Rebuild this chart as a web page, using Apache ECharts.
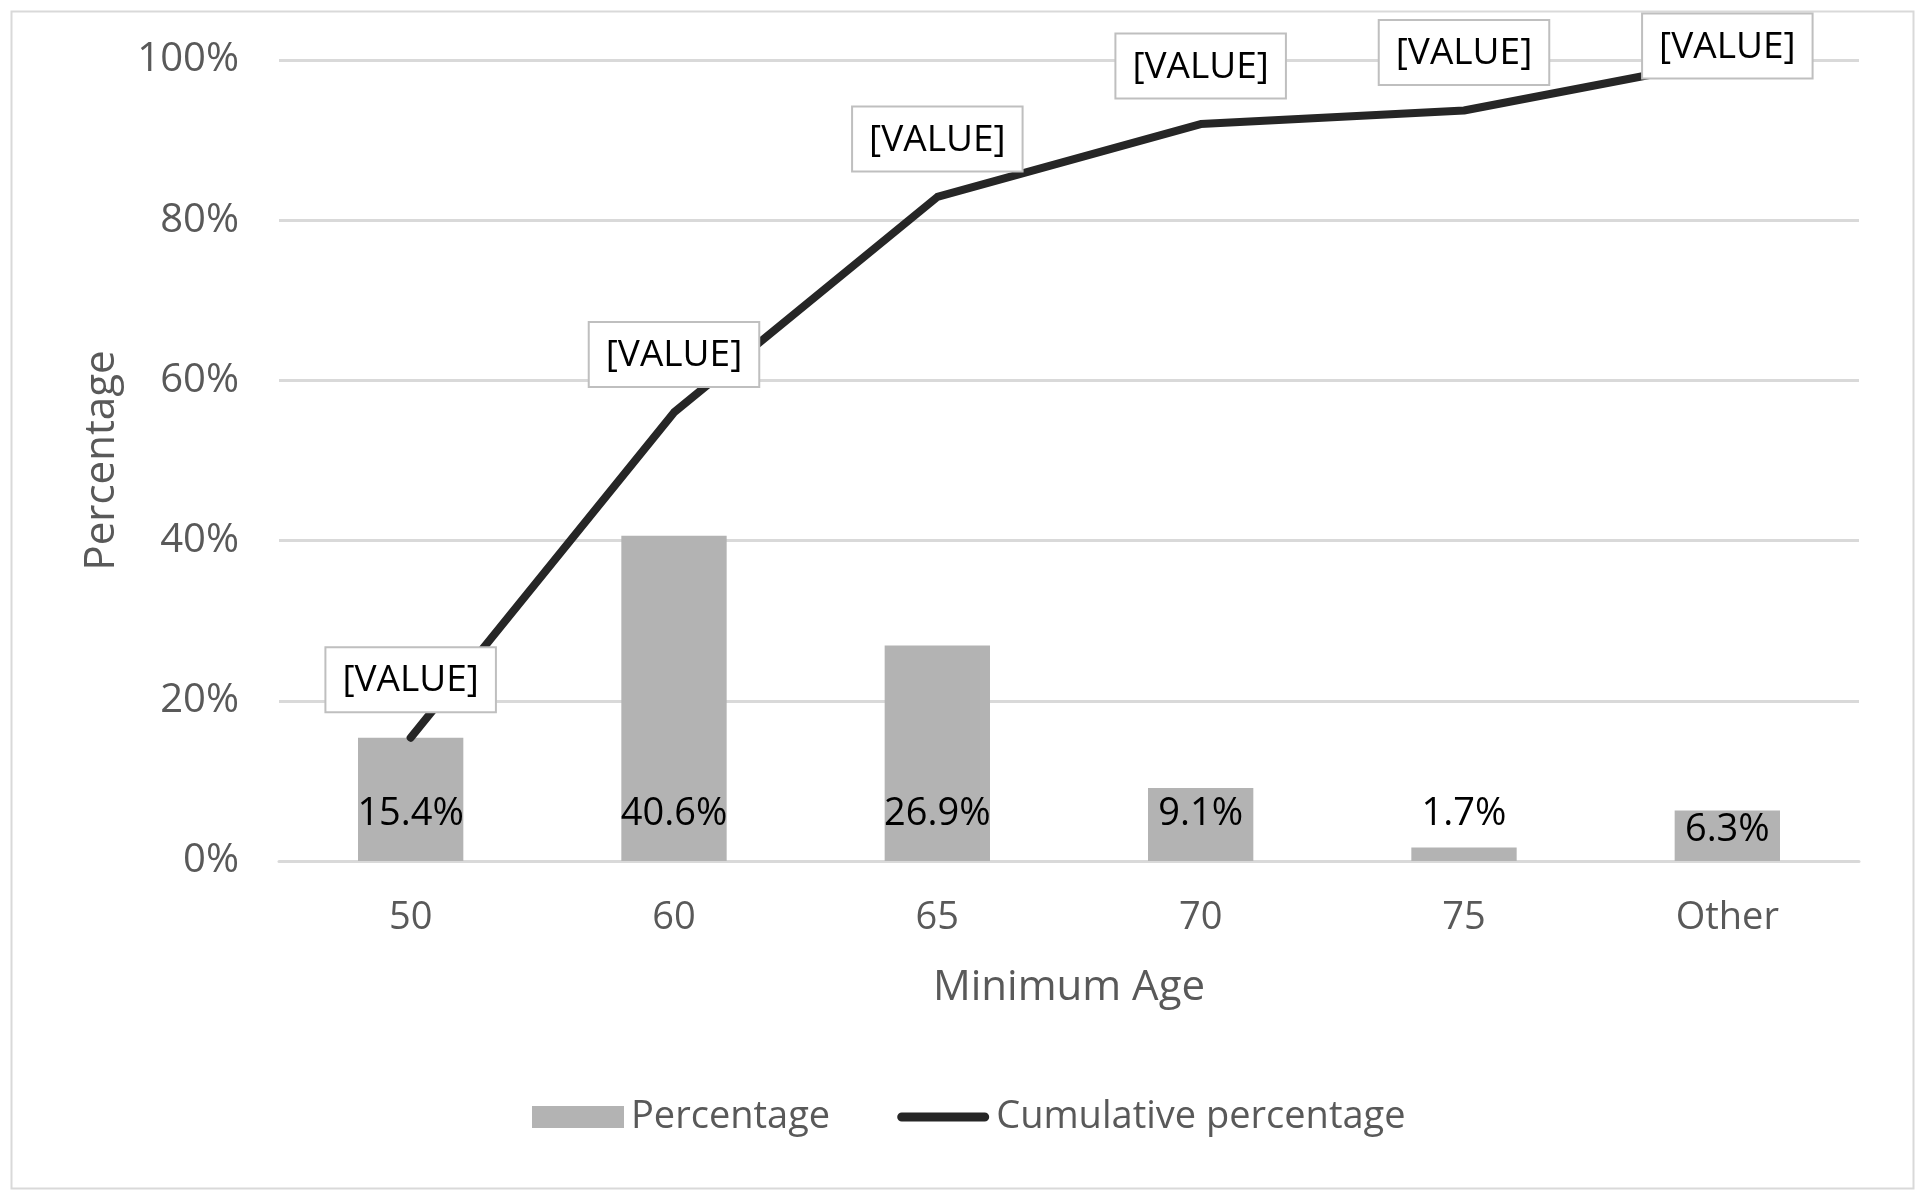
<!DOCTYPE html>
<html>
<head>
<meta charset="utf-8">
<script src="https://cdn.jsdelivr.net/npm/echarts@6/dist/echarts.min.js"></script>
<style>html,body{margin:0;padding:0;background:#fff;}#c{width:1920px;height:1196px;}</style>
</head>
<body>
<div id="c"></div>
<script>
const categories = ['50', '60', '65', '70', '75', 'Other'];
const percentage = [15.4, 40.6, 26.9, 9.1, 1.7, 6.3];
const cumulative = [15.4, 56.0, 82.9, 92.0, 93.7, 100.0];
const yTicks = [0, 20, 40, 60, 80, 100];

const FONT = 'Open Sans';
const chart = echarts.init(document.getElementById('c'), null, {renderer: 'canvas'});

const barData = percentage.map((v, i) => {
  const d = {value: v};
  if (categories[i] === 'Other') d.label = {distance: 12};
  return d;
});
const lineData = cumulative.map((v, i) => {
  const d = {value: v};
  if (i === cumulative.length - 1) d.label = {offset: [0, 44]};
  return d;
});

chart.setOption({
  animation: false,
  backgroundColor: '#ffffff',
  textStyle: {fontFamily: FONT},
  graphic: [{
    type: 'rect', left: 9, top: 9, z: -10,
    shape: {width: 1902, height: 1177},
    style: {fill: 'none', stroke: '#d9d9d9', lineWidth: 2}
  }],
  grid: {left: 279, right: 61, top: 60, bottom: 335},
  legend: {
    left: 527, top: 1093,
    itemWidth: 92, itemHeight: 22, itemGap: 67,
    textStyle: {fontFamily: FONT, fontSize: 38, color: '#595959', padding: [0, 0, 0, 2]},
    data: [
      {name: 'Percentage', icon: 'rect'},
      {name: 'Cumulative percentage', icon: 'path://M5,0 L95,0 A5,5 0 0 1 95,10 L5,10 A5,5 0 0 1 5,0 Z'}
    ]
  },
  xAxis: {
    type: 'category',
    data: categories,
    name: 'Minimum Age',
    nameLocation: 'middle',
    nameGap: 106,
    nameTextStyle: {fontFamily: FONT, fontSize: 42, color: '#595959'},
    axisLine: {show: true, lineStyle: {color: '#d9d9d9', width: 3}},
    axisTick: {show: false},
    axisLabel: {fontFamily: FONT, fontSize: 38, color: '#595959', margin: 38}
  },
  yAxis: {
    type: 'value',
    min: 0, max: 100, interval: 20,
    name: 'Percentage',
    nameLocation: 'middle',
    nameGap: 156,
    nameTextStyle: {fontFamily: FONT, fontSize: 42, color: '#595959'},
    axisLine: {show: false},
    axisTick: {show: false},
    splitLine: {lineStyle: {color: '#d9d9d9', width: 3}},
    axisLabel: {
      fontFamily: FONT, fontSize: 40, color: '#595959', margin: 40,
      formatter: v => yTicks.includes(v) ? v + '%' : ''
    }
  },
  series: [
    {
      name: 'Percentage',
      type: 'bar',
      data: barData,
      barWidth: '40%',
      itemStyle: {color: '#b3b3b3'},
      z: 1,
      label: {
        show: true,
        position: 'insideBottom',
        distance: 28,
        fontFamily: FONT, fontSize: 38, color: '#000000',
        formatter: p => p.value.toFixed(1) + '%'
      }
    },
    {
      name: 'Cumulative percentage',
      type: 'line',
      data: lineData,
      symbol: 'circle',
      symbolSize: 1,
      showSymbol: true,
      z: 3,
      lineStyle: {color: '#262626', width: 8, cap: 'round', join: 'round'},
      itemStyle: {color: '#262626'},
      label: {
        show: true,
        position: 'top',
        distance: 26,
        formatter: '[VALUE]',
        fontFamily: FONT, fontSize: 37, color: '#000000',
        backgroundColor: '#ffffff',
        borderColor: '#bfbfbf', borderWidth: 2,
        padding: [14, 16, 12, 16]
      }
    }
  ]
});
</script>
</body>
</html>
